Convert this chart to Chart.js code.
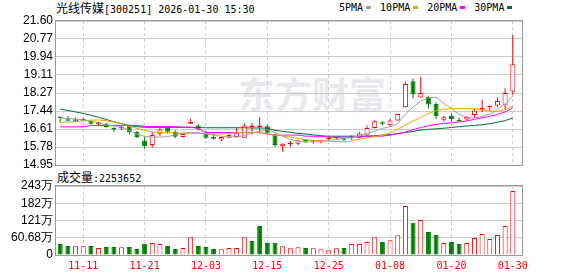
<!DOCTYPE html>
<html>
<head>
<meta charset="utf-8">
<script src="https://cdn.jsdelivr.net/npm/chart.js@4.4.1/dist/chart.umd.min.js"></script>
<style>
  body { margin: 0; width: 578px; height: 276px; background: #fff; position: relative; overflow: hidden; }
  .abs { position: absolute; white-space: nowrap; color: #000; }
  .cn { font: 12px 'Noto Sans CJK SC'; }
  .en { font: 10px 'DejaVu Sans Mono'; }
  #mark { left: 238px; top: 66px; font: bold 37px 'Noto Sans CJK SC'; color: #e9e9ed; letter-spacing: 0px; z-index: 0; }
  canvas { position: absolute; left: 0; z-index: 1; }
  #legend span.box { display: inline-block; width: 5px; height: 3px; margin: 0 9px 1px 3px; vertical-align: middle; }
</style>
</head>
<body>
<div id="mark" class="abs">东方财富</div>
<div id="title" class="abs" style="left:56px;top:-1px"><span class="cn">光线传媒</span><span class="en">[300251] 2026-01-30 15:30</span></div>
<div id="legend" class="abs en" style="left:339px;top:2px"></div>
<div id="volTitle" class="abs" style="left:57px;top:168px"><span class="cn">成交量</span><span class="en" id="volNow"></span></div>
<canvas id="price" width="578" height="180" style="top:0"></canvas>
<canvas id="vol" width="578" height="106" style="top:170px"></canvas>
<script>
// data
const dates = ['11-06','11-07','11-10','11-11','11-12','11-13','11-14','11-17','11-18','11-19','11-20','11-21','11-24','11-25','11-26','11-27','11-28',
  '12-01','12-02','12-03','12-04','12-05','12-08','12-09','12-10','12-11','12-12','12-15','12-16','12-17','12-18','12-19','12-22','12-23','12-24','12-25','12-26','12-29','12-30','12-31',
  '01-05','01-06','01-07','01-08','01-09','01-12','01-13','01-14','01-15','01-16','01-19','01-20','01-21','01-22','01-23','01-26','01-27','01-28','01-29','01-30'];
const dateTicks = ['11-11','11-21','12-03','12-15','12-25','01-08','01-20','01-30'];

const open  = [17.16,17.02,16.97,17.00,16.99,16.83,16.86,16.61,16.64,16.78,16.48,16.08,15.87,16.39,16.68,16.50,16.24,16.85,16.77,16.44,
  16.24,16.13,16.21,16.24,16.21,16.71,16.71,16.74,16.36,15.82,15.91,15.93,16.07,16.02,16.02,16.15,16.18,16.15,16.20,16.21,
  16.31,16.66,16.88,16.78,17.01,17.62,18.82,18.07,18.09,17.77,17.04,17.23,16.99,17.05,17.26,17.48,17.62,17.70,17.70,18.34];
const high  = [17.17,17.21,17.14,17.12,17.02,16.95,16.90,16.69,16.75,16.80,16.52,16.24,16.46,16.66,16.72,16.55,16.40,17.09,16.85,16.50,
  16.39,16.26,16.36,16.66,16.88,16.89,17.17,16.80,16.40,15.95,16.06,16.12,16.09,16.12,16.07,16.24,16.26,16.20,16.32,16.48,
  16.77,17.02,16.97,17.08,17.32,18.79,18.94,19.02,18.15,17.85,17.23,17.32,17.13,17.20,17.56,17.96,17.70,18.06,18.49,20.95];
const low   = [16.90,16.97,16.92,16.96,16.82,16.75,16.68,16.48,16.55,16.36,16.20,15.71,15.75,16.30,16.40,16.20,16.22,16.84,16.54,16.15,
  16.13,16.05,16.18,16.22,16.20,16.36,16.39,16.38,15.78,15.56,15.78,15.86,15.98,15.93,15.94,16.10,16.10,16.06,16.10,16.19,
  16.29,16.64,16.78,16.75,16.98,17.60,18.03,18.05,17.56,17.08,16.95,16.95,16.95,17.00,17.13,17.40,17.45,17.62,17.50,18.19];
const close = [17.12,16.99,17.09,17.03,16.85,16.92,16.71,16.59,16.67,16.46,16.24,15.82,16.33,16.59,16.48,16.26,16.38,16.93,16.62,16.21,
  16.16,16.24,16.33,16.44,16.77,16.71,16.71,16.44,15.87,15.93,15.98,16.08,16.04,16.05,16.05,16.22,16.22,16.12,16.25,16.40,
  16.66,16.97,16.85,17.00,17.30,18.69,18.22,18.27,17.74,17.20,17.18,17.08,16.97,17.17,17.47,17.58,17.68,17.90,18.27,19.60];

// volume in 万 shares
const volume = [38.7,31.7,30.5,30.5,31.7,24.6,28.1,28.1,27.0,28.1,21.1,38.7,42.2,38.7,31.7,21.1,24.6,62.3,31.7,28.1,
  21.1,19.9,24.6,24.6,62.3,49.2,102,42.2,42.2,30.5,23.4,27.0,24.6,23.4,19.9,16.4,23.4,24.6,38.7,38.7,
  45.7,62.3,45.7,51.6,69.2,172,113.7,123,80.9,70.3,42.2,45.7,38.7,42.2,59.8,73.9,56.3,70.3,102,225.4];
const volumeNow = 2253652;

const ma5  = [17.12,17.10,17.06,17.03,16.98,16.88,16.80,16.75,16.70,16.55,16.38,16.27,16.24,16.24,16.26,16.35,16.42,16.46,16.44,16.38,
  16.32,16.28,16.25,16.24,16.32,16.42,16.50,16.58,16.45,16.28,16.13,16.05,16.01,16.03,16.05,16.08,16.12,16.18,16.22,16.30,
  16.40,16.52,16.64,16.72,16.86,17.30,17.62,17.90,18.05,18.08,17.80,17.55,17.28,17.15,17.12,17.20,17.30,17.50,17.78,18.14];
const ma10 = [16.92,16.93,16.95,17.00,17.02,17.03,17.00,16.93,16.85,16.74,16.64,16.55,16.48,16.45,16.44,16.43,16.42,16.41,16.41,16.40,
  16.39,16.38,16.40,16.44,16.46,16.46,16.46,16.40,16.32,16.30,16.25,16.18,16.12,16.08,16.07,16.05,16.03,16.02,16.06,16.14,
  16.20,16.26,16.33,16.42,16.60,16.80,16.98,17.15,17.33,17.46,17.52,17.55,17.55,17.55,17.55,17.50,17.45,17.42,17.50,17.68];
const ma20 = [16.71,16.71,16.71,16.71,16.78,16.78,16.78,16.78,16.78,16.78,16.78,16.72,16.72,16.72,16.72,16.72,16.70,16.70,16.63,16.45,
  16.45,16.45,16.45,16.45,16.45,16.45,16.45,16.38,16.33,16.33,16.33,16.33,16.28,16.28,16.28,16.24,16.24,16.24,16.24,16.24,
  16.28,16.28,16.28,16.33,16.40,16.47,16.58,16.68,16.76,16.82,16.87,16.90,16.94,16.98,17.06,17.13,17.20,17.28,17.40,17.60];
const ma30 = [17.53,17.47,17.40,17.33,17.25,17.15,17.05,16.95,16.86,16.78,16.72,16.69,16.69,16.69,16.69,16.69,16.69,16.69,16.68,16.67,
  16.67,16.67,16.67,16.67,16.67,16.66,16.66,16.65,16.55,16.50,16.46,16.41,16.38,16.34,16.30,16.28,16.28,16.28,16.28,16.28,
  16.28,16.30,16.33,16.35,16.40,16.45,16.50,16.56,16.60,16.62,16.65,16.68,16.72,16.75,16.78,16.81,16.86,16.92,17.00,17.12];

const maNames = ['5PMA', '10PMA', '20PMA', '30PMA'];
const maColors = ['#a0a0a0', '#f5a300', '#ff00ff', '#006f35'];

const priceTicks = [14.95, 15.78, 16.61, 17.44, 18.27, 19.11, 19.94, 20.77, 21.60];
const volTicks = [0, 60.68, 121.36, 182.04, 242.72];
const volTickLabels = ['0', '60.68万', '121万', '182万', '243万'];

const RED = '#ff0000';
const GREEN = '#008000';
const GRID = '#cccccc';
const FRAME = '#999999';

const idx = dates.map((d, i) => i);
const tickIdx = dateTicks.map(d => dates.indexOf(d));
const up = idx.map(i => close[i] >= open[i]);
const volUp = idx.map(i => close[i] > open[i]);
const xMin = -0.55, xMax = 60.2;

// legend + header texts
document.getElementById('volNow').textContent = ':' + volumeNow;
const legend = document.getElementById('legend');
maNames.forEach((name, k) => {
  legend.insertAdjacentHTML('beforeend', name + '<span class="box" style="background:' + maColors[k] + '"></span>');
});

// plot frame
const framePlugin = {
  id: 'frame',
  afterDraw(chart) {
    const a = chart.chartArea, ctx = chart.ctx;
    ctx.save();
    ctx.strokeStyle = FRAME;
    ctx.lineWidth = 1;
    ctx.strokeRect(Math.round(a.left) - 0.5, Math.round(a.top) - 0.5, Math.round(a.right - a.left) + 1, Math.round(a.bottom - a.top) + 1);
    ctx.restore();
  }
};

const tickFont = { family: 'Liberation Sans', size: 12 };

function xScale(showLabels) {
  return {
    type: 'linear', min: xMin, max: xMax, offset: false,
    grid: { color: GRID, drawTicks: false, offset: false },
    border: { display: false, dash: [3, 3] },
    ticks: {
      display: showLabels, autoSkip: false, maxRotation: 0, padding: 5,
      color: RED, font: { family: 'DejaVu Sans Mono', size: 10 },
      callback: v => dates[v]
    },
    afterBuildTicks: s => { s.ticks = tickIdx.map(v => ({ value: v })); },
    afterFit: s => { s.height = showLabels ? 21 : 0; }
  };
}

const maSeries = [ma5, ma10, ma20, ma30];
const maSets = maSeries.map((m, k) => ({
  type: 'line',
  label: maNames[k],
  data: idx.map(i => ({ x: i, y: m[i] })),
  borderColor: maColors[k],
  borderWidth: 1,
  pointRadius: 0,
  tension: 0,
  order: 0
}));

new Chart(document.getElementById('price'), {
  type: 'bar',
  data: {
    datasets: [
      ...maSets,
      {
        label: 'body',
        data: idx.map(i => ({ x: i, y: [open[i], close[i]] })),
        backgroundColor: idx.map(i => up[i] ? '#ffffff' : GREEN),
        borderColor: idx.map(i => up[i] ? RED : GREEN),
        borderWidth: 1, barThickness: 5, minBarLength: 1.5,
        grouped: false, inflateAmount: 0, borderSkipped: false, order: 1
      },
      {
        label: 'wick',
        data: idx.map(i => ({ x: i, y: [low[i], high[i]] })),
        backgroundColor: idx.map(i => up[i] ? RED : GREEN),
        barThickness: 1, grouped: false, inflateAmount: 0, order: 2
      }
    ]
  },
  options: {
    responsive: false, animation: false, events: [],
    layout: { padding: { top: 21, right: 56, bottom: 15, left: 0 } },
    plugins: { legend: { display: false }, tooltip: { enabled: false } },
    scales: {
      x: xScale(false),
      y: {
        min: priceTicks[0], max: priceTicks[priceTicks.length - 1],
        grid: { color: GRID, drawTicks: false },
        border: { display: false },
        ticks: { padding: 3, color: '#000', font: tickFont, autoSkip: false, callback: (v, i) => priceTicks[i].toFixed(2) },
        afterBuildTicks: s => { s.ticks = priceTicks.map(v => ({ value: v })); },
        afterFit: s => { s.width = 56; }
      }
    }
  },
  plugins: [framePlugin]
});

new Chart(document.getElementById('vol'), {
  type: 'bar',
  data: {
    datasets: [{
      label: '成交量',
      data: idx.map(i => ({ x: i, y: volume[i] })),
      backgroundColor: idx.map(i => volUp[i] ? '#ffffff' : GREEN),
      borderColor: idx.map(i => volUp[i] ? RED : GREEN),
      borderWidth: 1, barThickness: 5, grouped: false, inflateAmount: 0, borderSkipped: 'bottom'
    }]
  },
  options: {
    responsive: false, animation: false, events: [],
    layout: { padding: { top: 16, right: 56, bottom: 0, left: 0 } },
    plugins: { legend: { display: false }, tooltip: { enabled: false } },
    scales: {
      x: xScale(true),
      y: {
        min: volTicks[0], max: volTicks[volTicks.length - 1],
        grid: { color: GRID, drawTicks: false },
        border: { display: false },
        ticks: { padding: 3, color: '#000', font: tickFont, autoSkip: false, callback: (v, i) => volTickLabels[i] },
        afterBuildTicks: s => { s.ticks = volTicks.map(v => ({ value: v })); },
        afterFit: s => { s.width = 56; }
      }
    }
  },
  plugins: [framePlugin]
});
</script>
</body>
</html>
